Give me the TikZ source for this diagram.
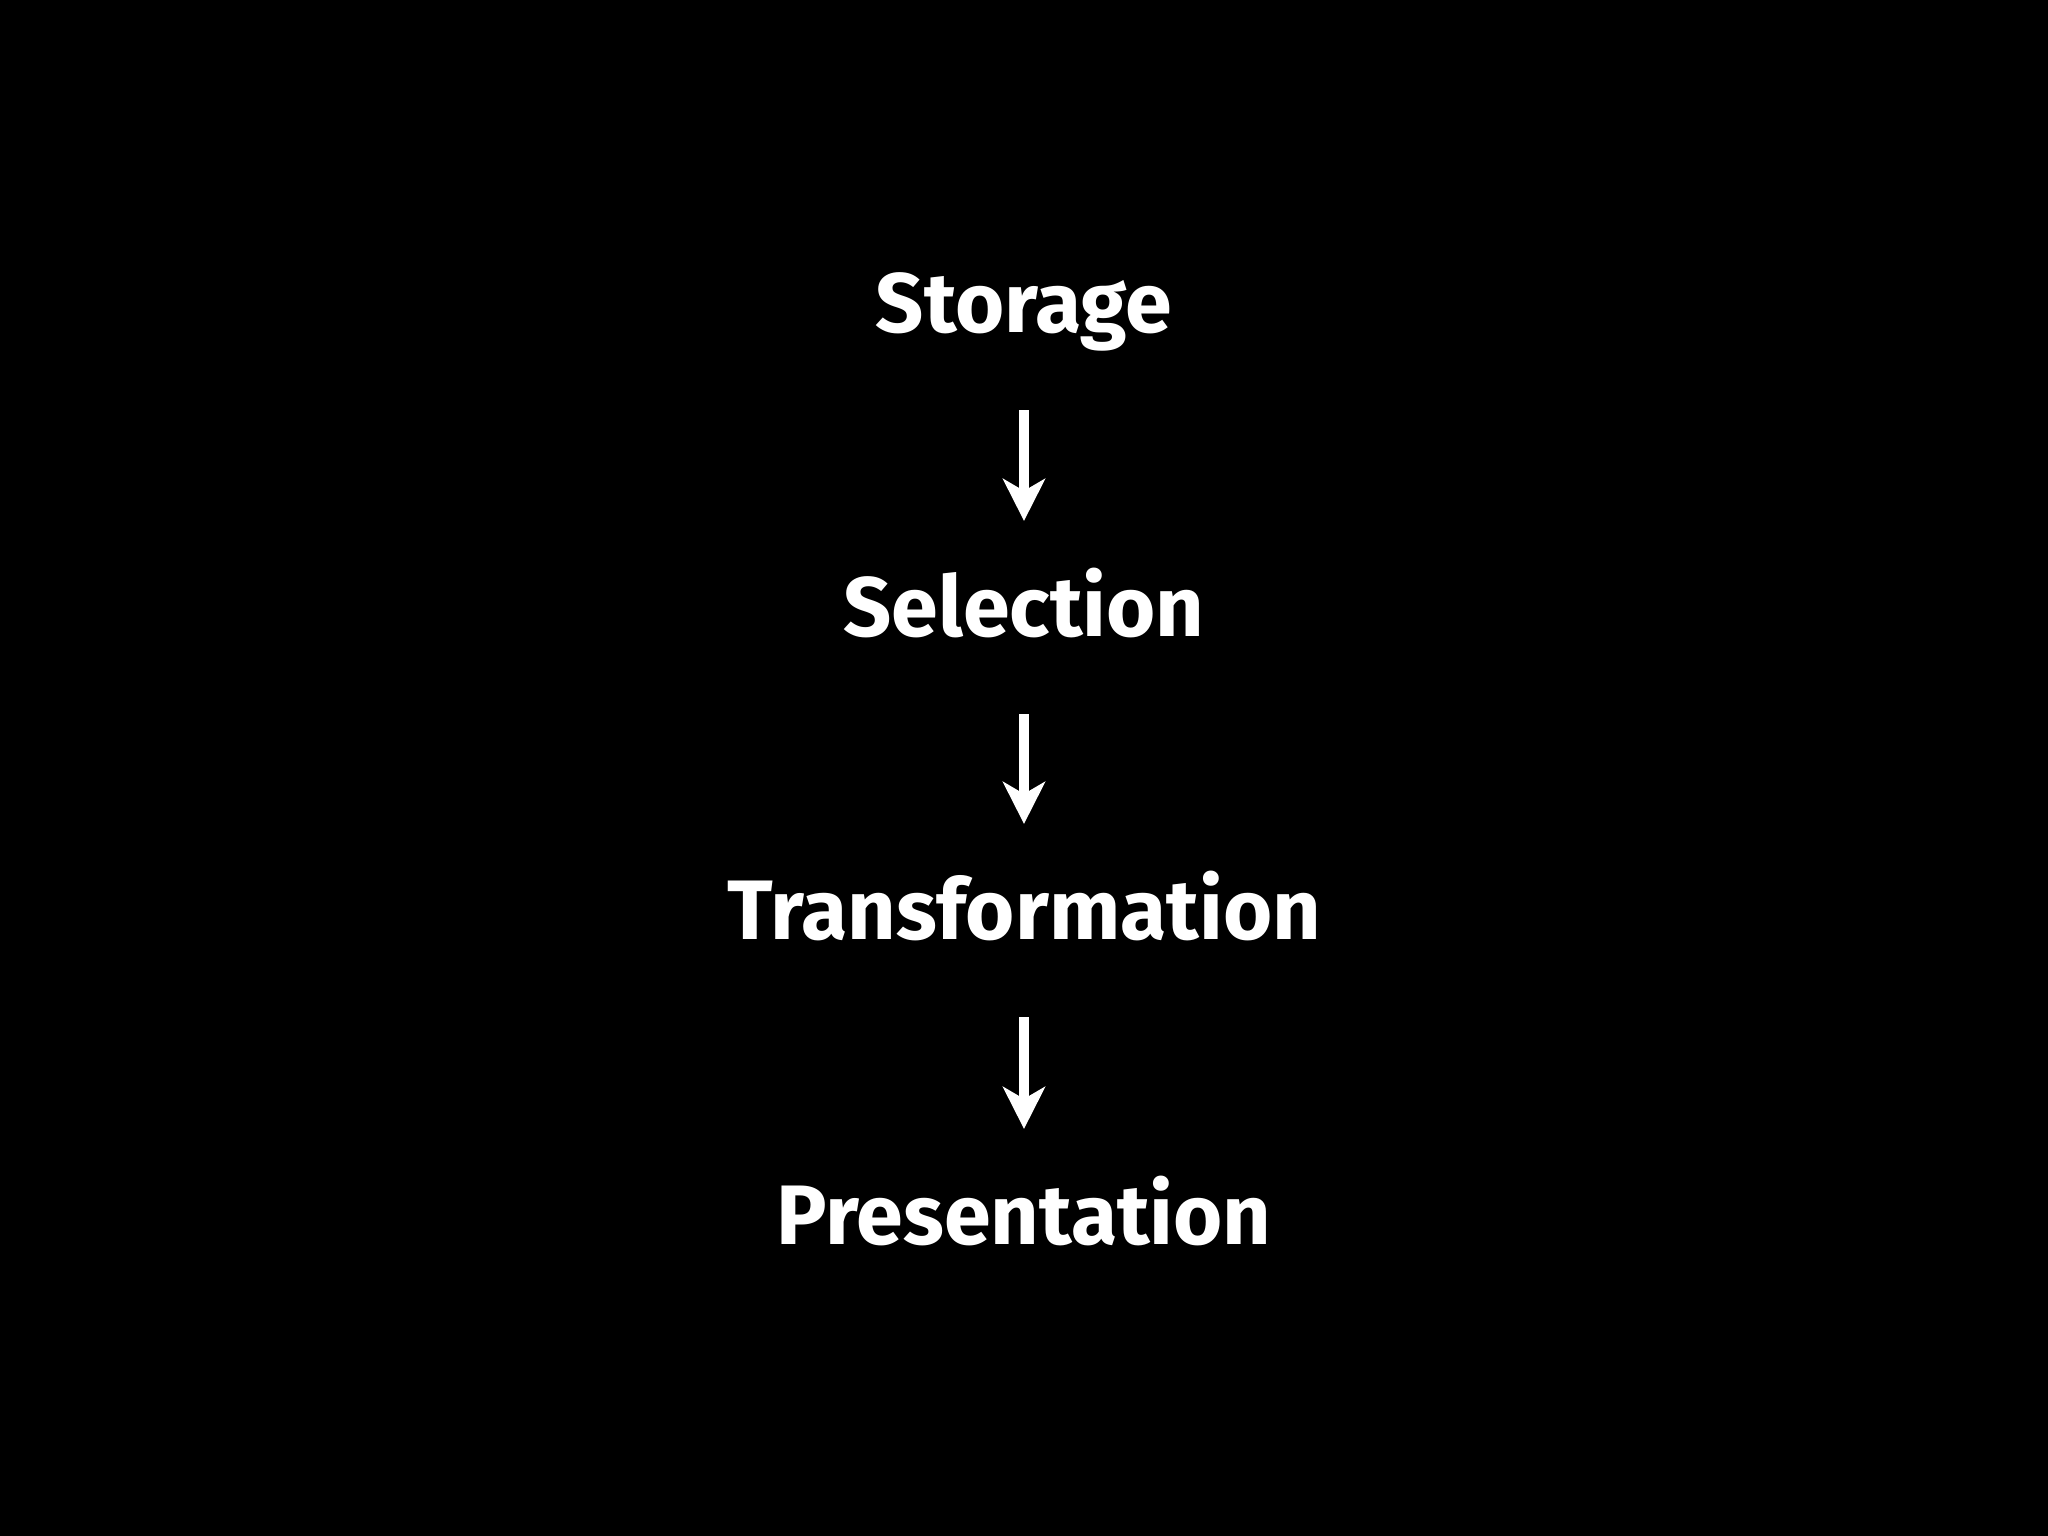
\documentclass[tikz,border=0pt]{standalone}
\usepackage{fontspec}
\setmainfont{Fira Sans}
\usetikzlibrary{arrows.meta}

\begin{document}
\begin{tikzpicture}[line cap=round,line join=round,x=0.01cm,y=0.01cm,
    stage/.style={anchor=base,inner sep=0pt,outer sep=0pt,text=white,
      text height=0.59cm,text depth=0pt,font=\fontsize{24}{28}\selectfont\bfseries},
    flow/.style={draw=white,line width=2.8pt,line cap=butt,
      -{Stealth[length=0.42cm,width=0.42cm,inset=0.12cm]},
      shorten <=0.77cm,shorten >=0.57cm}]
    \fill[fill=black] (0,0) rectangle (2048,1536);

    \node[stage] (storage) at (1024,1203) {Storage};
    \node[stage] (selection) at (1024,899) {Selection};
    \node[stage] (transformation) at (1024,596) {Transformation};
    \node[stage] (presentation) at (1024,291) {Presentation};

    \draw[flow] (storage.south) -- (selection.north);
    \draw[flow] (selection.south) -- (transformation.north);
    \draw[flow] (transformation.south) -- (presentation.north);
\end{tikzpicture}
\end{document}
